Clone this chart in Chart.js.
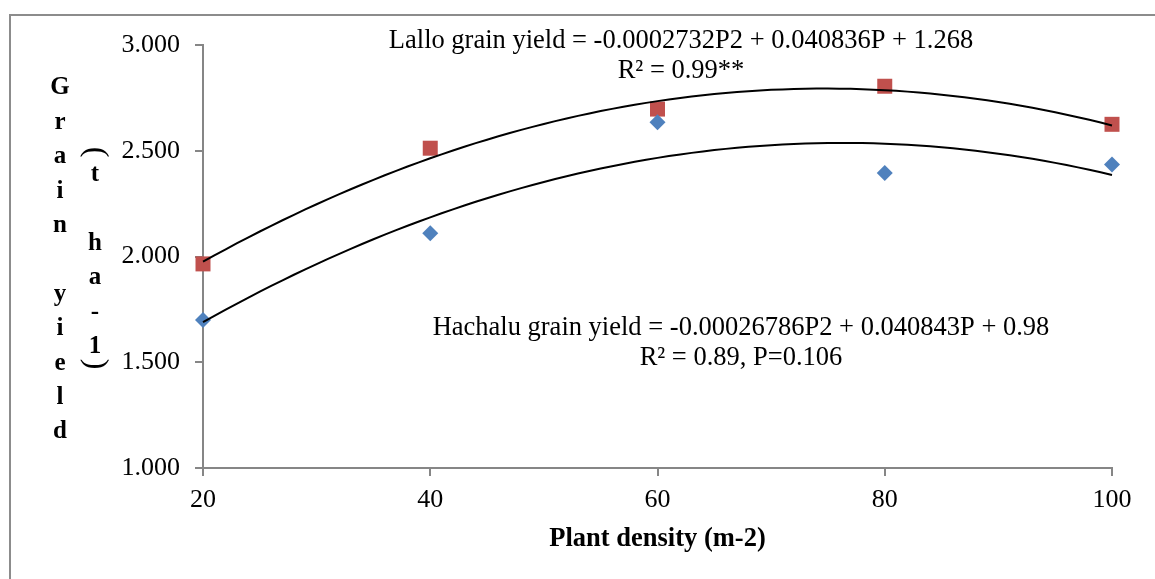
<!DOCTYPE html>
<html>
<head>
<meta charset="utf-8">
<script src="https://cdn.jsdelivr.net/npm/chart.js@4.4.1/dist/chart.umd.min.js"></script>
<style>
  html, body { margin: 0; padding: 0; background: #fff; }
  #wrap { width: 1155px; height: 579px; position: relative; }
</style>
</head>
<body>
<div id="wrap"><canvas id="yieldCanvas" width="1155" height="579"></canvas></div>
<script>
// Plant density (m-2)
const DENSITY = [20, 40, 60, 80, 100];
// Grain yield (t ha-1)
const HACHALU_YIELD = [1.700, 2.110, 2.635, 2.395, 2.435];
const LALLO_YIELD = [1.965, 2.512, 2.697, 2.805, 2.625];
// quadratic trendline coefficients [a, b, c] as printed: a*P^2 + b*P + c
const LALLO_FIT = [-0.0002732, 0.040836, 1.268];
const HACHALU_FIT = [-0.00026786, 0.040843, 0.98];
const Y_TICKS = [1.0, 1.5, 2.0, 2.5, 3.0];

const LALLO_EQ = ['Lallo grain yield = -0.0002732P2 + 0.040836P + 1.268', 'R² = 0.99**'];
const HACHALU_EQ = ['Hachalu grain yield = -0.00026786P2 + 0.040843P + 0.98', 'R² = 0.89, P=0.106'];
const Y_TITLE_1 = ['G', 'r', 'a', 'i', 'n', '', 'y', 'i', 'e', 'l', 'd'];
const Y_TITLE_2 = ['t', '', 'h', 'a', '-', '1'];

const SERIF = '"Liberation Serif", "Times New Roman", serif';
const AXIS_GREY = '#868686';

function trend(coef) {
  const pts = [];
  for (let p = DENSITY[0]; p <= DENSITY[DENSITY.length - 1]; p += 1) {
    pts.push({ x: p, y: coef[0] * p * p + coef[1] * p + coef[2] });
  }
  return pts;
}

// frame, equations and the stacked y title
const annotations = {
  id: 'annotations',
  afterDraw(chart) {
    const ctx = chart.ctx;
    ctx.save();
    ctx.strokeStyle = '#8c8c8c';
    ctx.lineWidth = 2;
    ctx.strokeRect(10, 15, 1200, 620);

    ctx.fillStyle = '#000';
    ctx.textAlign = 'center';
    ctx.textBaseline = 'middle';
    ctx.font = `26.5px ${SERIF}`;
    ctx.fillText(LALLO_EQ[0], 681, 41);
    ctx.fillText(LALLO_EQ[1], 681, 71);
    ctx.fillText(HACHALU_EQ[0], 741, 328);
    ctx.fillText(HACHALU_EQ[1], 741, 358);

    ctx.font = `bold 25px ${SERIF}`;
    Y_TITLE_1.forEach((ch, i) => ctx.fillText(ch, 60, 88 + i * 34.4));
    Y_TITLE_2.forEach((ch, i) => ctx.fillText(ch, 95, 175 + i * 34.3));
    // rotated parentheses
    [['(', 152], [')', 364]].forEach(([ch, y]) => {
      ctx.save();
      ctx.translate(95, y);
      ctx.rotate(Math.PI / 2);
      ctx.font = `32px ${SERIF}`;
      ctx.fillText(ch, 0, 0);
      ctx.restore();
    });
    ctx.restore();
  },
};

const canvas = document.getElementById('yieldCanvas');
new Chart(canvas, {
  type: 'scatter',
  data: {
    datasets: [
      {
        label: 'Lallo trend',
        data: trend(LALLO_FIT),
        showLine: true,
        borderColor: '#000',
        borderWidth: 2,
        pointRadius: 0,
        tension: 0,
        clip: false,
        order: 0,
      },
      {
        label: 'Hachalu trend',
        data: trend(HACHALU_FIT),
        showLine: true,
        borderColor: '#000',
        borderWidth: 2,
        pointRadius: 0,
        tension: 0,
        clip: false,
        order: 0,
      },
      {
        label: 'Hachalu',
        data: DENSITY.map((p, i) => ({ x: p, y: HACHALU_YIELD[i] })),
        pointStyle: 'rectRot',
        pointRadius: 8,
        backgroundColor: '#4f81bd',
        borderColor: '#4f81bd',
        borderWidth: 0,
        clip: false,
        order: 1,
      },
      {
        label: 'Lallo',
        data: DENSITY.map((p, i) => ({ x: p, y: LALLO_YIELD[i] })),
        pointStyle: 'rect',
        pointRadius: 10.6,
        backgroundColor: '#c0504d',
        borderColor: '#c0504d',
        borderWidth: 0,
        clip: false,
        order: 1,
      },
    ],
  },
  options: {
    responsive: false,
    animation: false,
    layout: { padding: { left: 0, right: 43, top: 45, bottom: 0 } },
    plugins: {
      legend: { display: false },
      tooltip: { enabled: false },
    },
    scales: {
      x: {
        type: 'linear',
        min: 20,
        max: 100,
        afterBuildTicks: (axis) => { axis.ticks = DENSITY.map((v) => ({ value: v })); },
        afterFit: (axis) => { axis.height = 111; },
        border: { color: AXIS_GREY, width: 2 },
        grid: { drawOnChartArea: false, drawTicks: true, tickLength: 8, color: AXIS_GREY, lineWidth: 2 },
        ticks: { color: '#000', padding: 9, font: { family: SERIF, size: 26 } },
        title: {
          display: true,
          text: 'Plant density (m-2)',
          color: '#000',
          font: { family: SERIF, size: 26.5, weight: 'bold' },
          padding: { top: 8, bottom: 24 },
        },
      },
      y: {
        min: 1,
        max: 3,
        afterBuildTicks: (axis) => { axis.ticks = Y_TICKS.map((v) => ({ value: v })); },
        afterFit: (axis) => { axis.width = 203; },
        border: { color: AXIS_GREY, width: 2 },
        grid: { drawOnChartArea: false, drawTicks: true, tickLength: 8, color: AXIS_GREY, lineWidth: 2 },
        ticks: {
          color: '#000',
          padding: 15,
          font: { family: SERIF, size: 26 },
          callback: (v) => Number(v).toFixed(3),
        },
      },
    },
  },
  plugins: [annotations],
});
</script>
</body>
</html>
